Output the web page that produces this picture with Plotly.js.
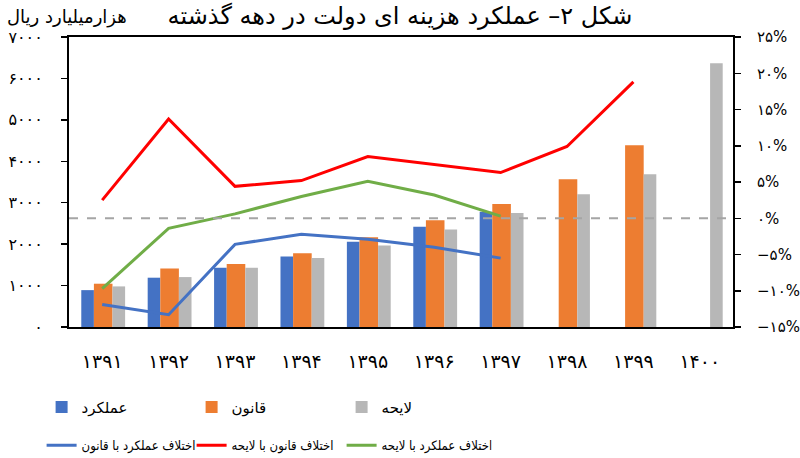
<!DOCTYPE html>
<html>
<head>
<meta charset="utf-8">
<script src="https://cdn.plot.ly/plotly-3.0.1.min.js"></script>
<style>
  body { margin: 0; background: #fff; }
  #chart { width: 800px; height: 458px; }
</style>
</head>
<body>
<div id="chart"></div>
<script>
// categories (fiscal years)
var years = ['۱۳۹۱', '۱۳۹۲', '۱۳۹۳', '۱۳۹۴', '۱۳۹۵', '۱۳۹۶', '۱۳۹۷', '۱۳۹۸', '۱۳۹۹', '۱۴۰۰'];

// bars, thousand billion rials
var y_actual = [890, 1190, 1430, 1700, 2060, 2420, 2780, null, null, null];
var y_law    = [1045, 1415, 1520, 1780, 2165, 2575, 2970, 3565, 4390, null];
var y_bill   = [980, 1205, 1430, 1665, 1965, 2355, 2750, 3205, 3685, 6365];

// lines, percent (right axis)
var y_actLaw  = [-11.9, -13.3, -3.6, -2.2, -2.9, -4.0, -5.5];
var y_lawBill = [2.5, 13.7, 4.4, 5.2, 8.5, 7.4, 6.3, 9.9, 18.8];
var y_actBill = [-9.7, -1.4, 0.6, 3.0, 5.1, 3.2, 0.3];

// tick labels
var leftTickVals  = [0, 1000, 2000, 3000, 4000, 5000, 6000, 7000];
var leftTickText  = ['۰', '۱۰۰۰', '۲۰۰۰', '۳۰۰۰', '۴۰۰۰', '۵۰۰۰', '۶۰۰۰', '۷۰۰۰'];
var rightTickVals = [-15, -10, -5, 0, 5, 10, 15, 20, 25];
var rightTickText = ['−۱۵%', '−۱۰%', '−۵%', '۰%', '۵%', '۱۰%', '۱۵%', '۲۰%', '۲۵%'];

var FONT = 'DejaVu Sans, sans-serif';
var NARROW = 'DejaVu Sans Condensed, DejaVu Sans, sans-serif';

var actual = {
    x: years, y: y_actual, name: 'عملکرد', type: 'bar',
    offset: -0.315, width: 0.19,
    marker: {color: '#4472C4'}, legend: 'legend'
};
var law = {
    x: years, y: y_law, name: 'قانون', type: 'bar',
    offset: -0.125, width: 0.28,
    marker: {color: '#ED7D31'}, legend: 'legend'
};
var bill = {
    x: years, y: y_bill, name: 'لایحه', type: 'bar',
    offset: 0.155, width: 0.19,
    marker: {color: '#B7B7B7'}, legend: 'legend'
};

var actLaw = {
    x: years.slice(0, y_actLaw.length), y: y_actLaw, yaxis: 'y2',
    name: 'اختلاف عملکرد با قانون', type: 'scatter', mode: 'lines',
    line: {color: '#4472C4', width: 3}, legend: 'legend2'
};
var lawBill = {
    x: years.slice(0, y_lawBill.length), y: y_lawBill, yaxis: 'y2',
    name: 'اختلاف قانون با لایحه', type: 'scatter', mode: 'lines',
    line: {color: '#FF0000', width: 3}, legend: 'legend2'
};
var actBill = {
    x: years.slice(0, y_actBill.length), y: y_actBill, yaxis: 'y2',
    name: 'اختلاف عملکرد با لایحه', type: 'scatter', mode: 'lines',
    line: {color: '#70AD47', width: 3}, legend: 'legend2'
};

var data = [actual, law, bill, actLaw, lawBill, actBill];

var legendBase = {
    orientation: 'h', xref: 'container', yref: 'container',
    xanchor: 'left', yanchor: 'middle',
    entrywidth: 105, entrywidthmode: 'pixels',
    bgcolor: 'rgba(0,0,0,0)', traceorder: 'normal'
};

var layout = {
    width: 800, height: 458,
    margin: {l: 69, r: 67, t: 37, b: 131},
    paper_bgcolor: '#fff', plot_bgcolor: '#fff',
    font: {family: FONT, color: '#000'},
    showlegend: true,
    barmode: 'overlay',
    title: {
        text: 'شکل ۲– عملکرد هزینه ای دولت در دهه گذشته',
        font: {family: FONT, size: 24, color: '#000'},
        x: 0.5, xanchor: 'center', y: 0.967, yanchor: 'middle'
    },
    xaxis: {
        type: 'category', range: [-0.5, 9.5],
        showline: true, linecolor: '#000', linewidth: 2, mirror: true,
        ticks: '', ticklabelstandoff: 16,
        tickfont: {family: FONT, size: 19, color: '#000'},
        showgrid: false, zeroline: false
    },
    yaxis: {
        range: [0, 7000], tickvals: leftTickVals, ticktext: leftTickText,
        showline: true, linecolor: '#000', linewidth: 2,
        ticks: 'outside', ticklen: 6, tickwidth: 1.5, tickcolor: '#000',
        ticklabelstandoff: 15,
        tickfont: {family: FONT, size: 16, color: '#000'},
        showgrid: false, zeroline: false
    },
    yaxis2: {
        range: [-15, 25], overlaying: 'y', side: 'right',
        tickvals: rightTickVals, ticktext: rightTickText,
        showline: true, linecolor: '#000', linewidth: 2,
        ticks: 'outside', ticklen: 6, tickwidth: 1.5, tickcolor: '#000',
        ticklabelstandoff: 13,
        tickfont: {family: FONT, size: 15, color: '#000'},
        showgrid: false, zeroline: false
    },
    // inner halves of the crossing tick marks
    yaxis3: {
        range: [0, 7000], overlaying: 'y', side: 'left', anchor: 'x',
        tickvals: leftTickVals, showticklabels: false,
        ticks: 'inside', ticklen: 6, tickwidth: 1.5, tickcolor: '#000',
        showline: false, showgrid: false, zeroline: false
    },
    yaxis4: {
        range: [-15, 25], overlaying: 'y', side: 'right', anchor: 'x',
        tickvals: rightTickVals, showticklabels: false,
        ticks: 'inside', ticklen: 6, tickwidth: 1.5, tickcolor: '#000',
        showline: false, showgrid: false, zeroline: false
    },
    legend: Object.assign({}, legendBase, {
        x: 0.052, y: 0.111,
        font: {family: FONT, size: 15, color: '#000'}
    }),
    legend2: Object.assign({}, legendBase, {
        x: 0.052, y: 0.028,
        font: {family: NARROW, size: 13, color: '#000'}
    }),
    shapes: [{
        type: 'line', xref: 'paper', yref: 'y2',
        x0: 0, x1: 1, y0: 0, y1: 0,
        line: {color: '#A5A5A5', width: 2, dash: 'dash'}
    }],
    annotations: [{
        text: 'هزارمیلیارد ریال', showarrow: false,
        xref: 'paper', yref: 'paper', x: -0.096, y: 1.069,
        xanchor: 'left', yanchor: 'middle',
        font: {family: FONT, size: 18, color: '#000'}
    }]
};

Plotly.newPlot('chart', data, layout, {displayModeBar: false, staticPlot: true});
</script>
</body>
</html>
